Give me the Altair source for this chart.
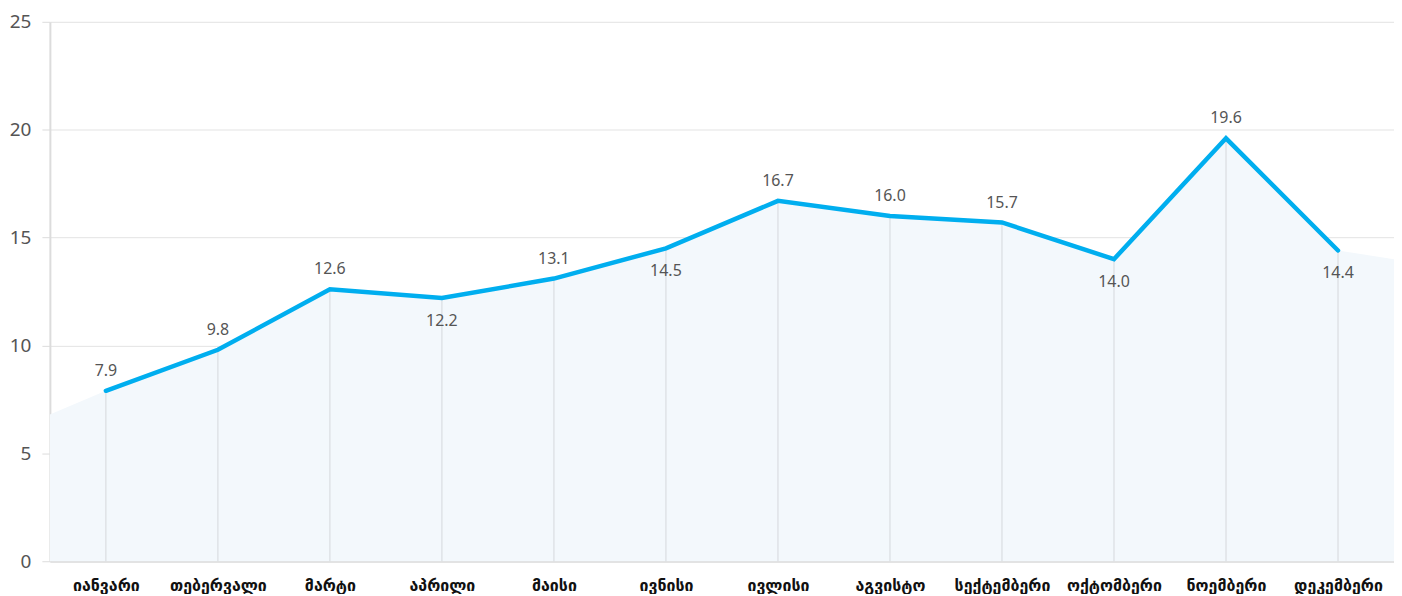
import altair as alt
import pandas as pd

months = ["იანვარი", "თებერვალი", "მარტი", "აპრილი", "მაისი", "ივნისი",
          "ივლისი", "აგვისტო", "სექტემბერი", "ოქტომბერი", "ნოემბერი", "დეკემბერი"]
values = [7.9, 9.8, 12.6, 12.2, 13.1, 14.5, 16.7, 16.0, 15.7, 14.0, 19.6, 14.4]
label_below = [False, False, False, True, False, True, False, False, False, True, False, True]
# area extends to the plot edges (half a month before/after)
edge_x = [-0.5, 11.5]
edge_values = [6.8, 14.0]

idx = list(range(len(months)))
df = pd.DataFrame({"i": idx, "month": months, "value": values, "below": label_below,
                   "lbl": [f"{v:.1f}" for v in values]})
area_df = pd.DataFrame({"i": [edge_x[0]] + idx + [edge_x[1]],
                        "value": [edge_values[0]] + values + [edge_values[1]]})

names_js = "[" + ",".join('"' + m + '"' for m in months) + "]"

xscale = alt.Scale(domain=[-0.5, 11.5], nice=False, zero=False)
yscale = alt.Scale(domain=[0, 25], nice=False)

x_axis = alt.Axis(values=idx, labelExpr=f"{names_js}[datum.value]", grid=False,
                  ticks=False, domain=True, domainColor="#dcdcdc", domainWidth=2,
                  labelFont="DejaVu Sans", labelFontWeight="bold", labelFontSize=16,
                  labelColor="#111111", labelPadding=16, title=None)
y_axis = alt.Axis(values=[0, 5, 10, 15, 20, 25], grid=True, gridColor="#e3e3e3",
                  gridWidth=1, domain=True, domainColor="#dcdcdc", domainWidth=2,
                  ticks=True, tickSize=8, tickColor="#dcdcdc", labelFont="Noto Sans",
                  labelFontSize=19, labelColor="#555555", labelPadding=11, title=None,
                  minExtent=42, maxExtent=42)

area = alt.Chart(area_df).mark_area(color="#f3f8fc", opacity=1).encode(
    x=alt.X("i:Q", scale=xscale, axis=x_axis),
    y=alt.Y("value:Q", scale=yscale, axis=y_axis),
)

rules = alt.Chart(df).transform_calculate(zero="0").mark_rule(
    color="#d5d8dc", strokeWidth=1).encode(
    x=alt.X("i:Q", scale=xscale),
    y=alt.Y("value:Q", scale=yscale),
    y2="zero:Q",
)

line = alt.Chart(df).mark_line(color="#00aeef", strokeWidth=4.5, strokeCap="round",
                               strokeJoin="miter").encode(
    x=alt.X("i:Q", scale=xscale),
    y=alt.Y("value:Q", scale=yscale),
)

text_above = alt.Chart(df).transform_filter("!datum.below").mark_text(
    dy=-20, fontSize=16, font="Noto Sans", color="#555555").encode(
    x=alt.X("i:Q", scale=xscale),
    y=alt.Y("value:Q", scale=yscale),
    text="lbl:N",
)
text_below = alt.Chart(df).transform_filter("datum.below").mark_text(
    dy=23, fontSize=16, font="Noto Sans", color="#555555").encode(
    x=alt.X("i:Q", scale=xscale),
    y=alt.Y("value:Q", scale=yscale),
    text="lbl:N",
)

chart = alt.layer(area, rules, line, text_above, text_below).properties(
    width=1390, height=586,
    padding={"left": 0, "top": 4, "right": 0, "bottom": 0},
    autosize=alt.AutoSizeParams(type="fit", contains="padding"),
).configure_view(stroke=None)

chart.save("out.html", embed_options={"renderer": "svg", "actions": False})
